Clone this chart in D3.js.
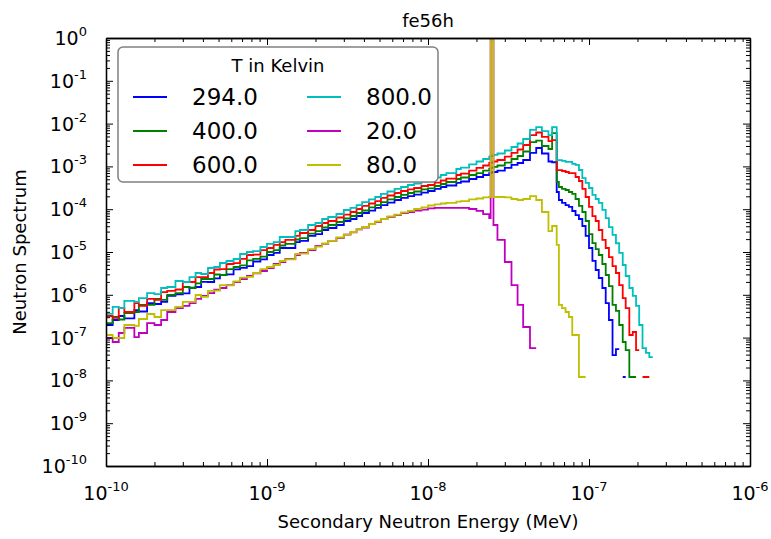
<!DOCTYPE html>
<html lang="en">
<head>
<meta charset="UTF-8">
<title>fe56h neutron spectrum</title>
<script src="https://d3js.org/d3.v7.min.js"></script>
<style>
  body { margin: 0; background: #fff; }
  svg { font-family: "DejaVu Sans", sans-serif; }
  .axis line { stroke: #000; }
  .axis path { stroke: #000; stroke-width: 1.3; }
</style>
</head>
<body>
<svg width="771" height="539"></svg>
<script>
// bin edges (MeV), shared by every temperature
const edges = [
  1.0e-10, 1.1e-10, 1.2e-10, 1.3e-10, 1.5e-10, 1.6e-10, 1.8e-10, 2.0e-10, 2.2e-10, 2.4e-10, 2.7e-10, 3.0e-10,
  3.3e-10, 3.6e-10, 3.9e-10, 4.3e-10, 4.7e-10, 5.1e-10, 5.6e-10, 6.2e-10, 6.8e-10, 7.5e-10, 8.2e-10, 9.1e-10,
  1.0e-9, 1.1e-9, 1.2e-9, 1.3e-9, 1.5e-9, 1.6e-9, 1.8e-9, 2.0e-9, 2.2e-9, 2.4e-9, 2.7e-9, 3.0e-9,
  3.3e-9, 3.6e-9, 3.9e-9, 4.3e-9, 4.7e-9, 5.1e-9, 5.6e-9, 6.2e-9, 6.8e-9, 7.5e-9, 8.2e-9, 9.1e-9,
  1.0e-8, 1.1e-8, 1.2e-8, 1.3e-8, 1.5e-8, 1.6e-8, 1.8e-8, 2.0e-8, 2.2e-8, 2.4e-8, 2.45e-8, 2.55e-8,
  2.7e-8, 3.0e-8, 3.3e-8, 3.6e-8, 3.9e-8, 4.3e-8, 4.7e-8, 5.1e-8, 5.6e-8, 5.9e-8, 6.3e-8, 6.5e-8,
  6.8e-8, 7.15e-8, 7.5e-8, 7.87e-8, 8.25e-8, 8.66e-8, 9.09e-8, 9.53e-8,
  1.0e-7, 1.05e-7, 1.10e-7, 1.15e-7, 1.21e-7, 1.27e-7, 1.33e-7, 1.40e-7, 1.47e-7, 1.54e-7, 1.62e-7, 1.69e-7,
  1.78e-7, 1.87e-7, 1.96e-7, 2.05e-7, 2.15e-7, 2.26e-7, 2.37e-7, 2.49e-7, 2.61e-7
];

// spectrum per bin, null = empty bin
const t294 = [
  1.97e-7, 2.58e-7, 3.2e-7, 2.8e-7, 4.4e-7, 4.07e-7, 6.4e-7, 6.1e-7, 6.8e-7, 9.4e-7, 1.02e-6, 1.08e-6,
  1.47e-6, 1.52e-6, 2.01e-6, 1.99e-6, 2.42e-6, 2.9e-6, 3.0e-6, 3.92e-6, 4.27e-6, 4.7e-6, 6.0e-6, 6.7e-6,
  8.5e-6, 9.5e-6, 1.24e-5, 1.24e-5, 1.71e-5, 1.81e-5, 2.37e-5, 2.63e-5, 3.27e-5, 3.64e-5, 4.27e-5, 5.3e-5,
  5.9e-5, 6.93e-5, 8.15e-5, 9.3e-5, 1.07e-4, 1.25e-4, 1.43e-4, 1.64e-4, 1.83e-4, 2.03e-4, 2.2e-4, 2.45e-4,
  2.66e-4, 2.97e-4, 3.3e-4, 3.58e-4, 4.1e-4, 4.44e-4, 5.08e-4, 5.65e-4, 6.3e-4, 7.0e-4, 7.2e-4, 7.4e-4,
  8.0e-4, 9.2e-4, 1.08e-3, 1.2e-3, 1.41e-3, 2.06e-3, 2.69e-3, 2.0e-3, 1.3e-3, 1.25e-3, 2.52e-4, 1.64e-4,
  1.4e-4, 1.25e-4, 1.13e-4, 9.07e-5, 7.3e-5, 5.9e-5, 4.05e-5, 2.37e-5,
  1.24e-5, 6.2e-6, 3.8e-6, 2.47e-6, 1.44e-6, 6.4e-7, 2.58e-7, 3.9e-8, 5.4e-8, null, 1.2e-8, null,
  null, null, null, null, null, null, null, null
];
const t400 = [
  2.19e-7, 3.03e-7, 2.65e-7, 3.76e-7, 3.96e-7, 5.8e-7, 5.8e-7, 8.0e-7, 7.6e-7, 1.0e-6, 1.1e-6, 1.52e-6,
  1.44e-6, 1.84e-6, 2.34e-6, 2.34e-6, 2.98e-6, 2.9e-6, 4.0e-6, 4.46e-6, 4.86e-6, 6.36e-6, 6.93e-6, 7.8e-6,
  1.0e-5, 1.11e-5, 1.42e-5, 1.54e-5, 1.96e-5, 2.12e-5, 2.7e-5, 3.09e-5, 3.74e-5, 4.27e-5, 5.02e-5, 6.06e-5,
  6.93e-5, 8.15e-5, 9.33e-5, 1.1e-4, 1.25e-4, 1.47e-4, 1.69e-4, 1.93e-4, 2.15e-4, 2.39e-4, 2.59e-4, 2.89e-4,
  3.05e-4, 3.48e-4, 3.88e-4, 4.32e-4, 5.08e-4, 5.5e-4, 6.3e-4, 7.0e-4, 8.0e-4, 8.9e-4, 9.2e-4, 9.7e-4,
  1.05e-3, 1.23e-3, 1.49e-3, 1.75e-3, 2.23e-3, 3.7e-3, 4.0e-3, 3.0e-3, 2.55e-3, 6.0e-3, 4.32e-4, 3.3e-4,
  2.97e-4, 2.81e-4, 2.52e-4, 2.27e-4, 1.73e-4, 1.19e-4, 8.6e-5, 5.3e-5,
  2.63e-5, 1.62e-5, 1.17e-5, 8.5e-6, 5.25e-6, 2.9e-6, 1.6e-6, 5.8e-7, 4.2e-7, 1.97e-7, 7.9e-8, 5.1e-8,
  1.2e-8, 1.2e-8, null, null, null, null, null, null
];
const t600 = [
  3.2e-7, 2.9e-7, 4.9e-7, 3.96e-7, 6.4e-7, 5.5e-7, 8.0e-7, 7.6e-7, 1.16e-6, 1.23e-6, 1.33e-6, 1.99e-6,
  1.99e-6, 2.6e-6, 2.6e-6, 3.23e-6, 3.9e-6, 4.0e-6, 5.25e-6, 5.5e-6, 6.9e-6, 8.5e-6, 8.7e-6, 1.11e-5,
  1.24e-5, 1.46e-5, 1.71e-5, 1.91e-5, 2.37e-5, 2.78e-5, 3.27e-5, 4.05e-5, 4.76e-5, 5.3e-5, 6.4e-5, 7.5e-5,
  8.6e-5, 1.01e-4, 1.19e-4, 1.36e-4, 1.55e-4, 1.83e-4, 2.09e-4, 2.39e-4, 2.66e-4, 2.89e-4, 3.13e-4, 3.48e-4,
  3.68e-4, 4.2e-4, 4.68e-4, 5.2e-4, 6.3e-4, 6.8e-4, 8.0e-4, 9.2e-4, 1.05e-3, 1.2e-3, 1.23e-3, 1.3e-3,
  1.41e-3, 1.7e-3, 2.06e-3, 2.48e-3, 3.16e-3, 5.4e-3, 6.2e-3, 4.9e-3, 3.9e-3, 4.1e-3, 8.2e-4, 8.2e-4,
  7.8e-4, 7.4e-4, 7.0e-4, 7.0e-4, 5.65e-4, 4.56e-4, 2.97e-4, 1.93e-4,
  1.13e-4, 6.9e-5, 5.3e-5, 3.27e-5, 1.91e-5, 1.24e-5, 7.6e-6, 4.7e-6, 3.23e-6, 1.69e-6, 8.4e-7, 4.9e-7,
  1.15e-7, 1.35e-7, 5.1e-8, null, 1.2e-8, 1.2e-8, null, null
];
const t800 = [
  3.6e-7, 5.2e-7, 4.9e-7, 7.2e-7, 6.8e-7, 8.4e-7, 1.1e-6, 1.04e-6, 1.44e-6, 1.52e-6, 2.1e-6, 1.99e-6,
  2.6e-6, 3.23e-6, 3.06e-6, 4.23e-6, 4.46e-6, 5.53e-6, 6.16e-6, 6.86e-6, 8.99e-6, 1.0e-5, 1.05e-5, 1.31e-5,
  1.54e-5, 1.71e-5, 2.24e-5, 2.24e-5, 3.09e-5, 3.27e-5, 4.27e-5, 4.76e-5, 5.9e-5, 6.57e-5, 7.72e-5, 9.57e-5,
  1.07e-4, 1.25e-4, 1.47e-4, 1.69e-4, 1.93e-4, 2.27e-4, 2.59e-4, 2.97e-4, 3.3e-4, 3.68e-4, 3.99e-4, 4.44e-4,
  4.8e-4, 5.5e-4, 6.3e-4, 7.0e-4, 8.7e-4, 9.4e-4, 1.11e-3, 1.3e-3, 1.49e-3, 1.7e-3, 1.75e-3, 1.85e-3,
  2.0e-3, 2.35e-3, 2.84e-3, 3.43e-3, 4.37e-3, 7.1e-3, 8.3e-3, 6.7e-3, 5.4e-3, 8.3e-3, 1.4e-3, 1.4e-3,
  1.34e-3, 1.27e-3, 1.27e-3, 1.14e-3, 1.08e-3, 8.24e-4, 5.35e-4, 4.1e-4,
  3.13e-4, 2.15e-4, 1.73e-4, 1.4e-4, 9.6e-5, 6.2e-5, 3.8e-5, 2.5e-5, 1.6e-5, 9.5e-6, 4.97e-6, 2.75e-6,
  1.44e-6, 9.4e-7, 5.5e-7, 1.97e-7, 5.7e-8, 4.4e-8, 3.5e-8, null
];
const t20 = [
  9.8e-8, 7.9e-8, 1.28e-7, 1.68e-7, 1.03e-7, 1.28e-7, 2.19e-7, 1.97e-7, 2.58e-7, 3.96e-7, 4.9e-7, 5.5e-7,
  6.4e-7, 8.0e-7, 9.4e-7, 1.1e-6, 1.32e-6, 1.44e-6, 1.69e-6, 1.99e-6, 2.34e-6, 2.75e-6, 3.15e-6, 3.6e-6,
  4.23e-6, 5.25e-6, 5.84e-6, 6.86e-6, 8.5e-6, 9.5e-6, 1.11e-5, 1.38e-5, 1.54e-5, 1.81e-5, 2.12e-5, 2.56e-5,
  2.86e-5, 3.36e-5, 3.74e-5, 4.51e-5, 5.02e-5, 5.9e-5, 6.57e-5, 7.31e-5, 8.15e-5, 8.6e-5, 9.3e-5, 9.8e-5,
  1.04e-4, 1.07e-4, 1.07e-4, 1.07e-4, 1.07e-4, 1.07e-4, 1.01e-4, 9.1e-5, 7.7e-5, 6.2e-5, 0.9, 4.27e-5,
  1.91e-5, 5.84e-6, 1.69e-6, 5.8e-7, 1.77e-7, 5.7e-8, null, null, null, null, null, null,
  null, null, null, null, null, null, null, null,
  null, null, null, null, null, null, null, null, null, null, null, null,
  null, null, null, null, null, null, null, null
];
const t80 = [
  1.15e-7, 9.8e-8, 9.8e-8, 1.97e-7, 1.87e-7, 2.72e-7, 3.56e-7, 3.03e-7, 4.4e-7, 4.4e-7, 5.2e-7, 6.8e-7,
  6.8e-7, 9.9e-7, 8.9e-7, 1.23e-6, 1.25e-6, 1.69e-6, 1.66e-6, 2.06e-6, 2.51e-6, 2.63e-6, 3.2e-6, 4.0e-6,
  4.46e-6, 4.97e-6, 6.16e-6, 6.7e-6, 8.99e-6, 9.2e-6, 1.17e-5, 1.34e-5, 1.58e-5, 1.81e-5, 2.18e-5, 2.56e-5,
  2.93e-5, 3.36e-5, 3.84e-5, 4.51e-5, 5.16e-5, 5.9e-5, 6.75e-5, 7.5e-5, 8.4e-5, 9.1e-5, 1.01e-4, 1.1e-4,
  1.22e-4, 1.29e-4, 1.36e-4, 1.4e-4, 1.51e-4, 1.55e-4, 1.69e-4, 1.78e-4, 1.88e-4, 1.93e-4, 0.9, 1.93e-4,
  1.93e-4, 1.88e-4, 1.73e-4, 1.64e-4, 1.73e-4, 2.03e-4, 1.64e-4, 8.6e-5, 3.09e-5, 4.05e-5, 1.46e-5, 5.8e-7,
  4.9e-7, 3.96e-7, 3.03e-7, 1.15e-7, 1.15e-7, 1.2e-8, 1.2e-8, null,
  null, null, null, null, null, null, null, null, null, null, null, null,
  null, null, null, null, null, null, null, null
];

const labels = ["294.0", "400.0", "600.0", "800.0", "20.0", "80.0"];
const colors = ["#0000ff", "#008000", "#ff0000", "#00bfbf", "#bf00bf", "#bfbf00"];
const series = [t294, t400, t600, t800, t20, t80];

const xDecades = [1e-10, 1e-9, 1e-8, 1e-7, 1e-6];
const xExp = ["-10", "-9", "-8", "-7", "-6"];
const yDecades = [1e0, 1e-1, 1e-2, 1e-3, 1e-4, 1e-5, 1e-6, 1e-7, 1e-8, 1e-9, 1e-10];
const yExp = ["0", "-1", "-2", "-3", "-4", "-5", "-6", "-7", "-8", "-9", "-10"];

const margin = { top: 38, right: 21, bottom: 73, left: 106 };
const width = 771 - margin.left - margin.right;
const height = 539 - margin.top - margin.bottom;

const svg = d3.select("svg");
const g = svg.append("g").attr("transform", `translate(${margin.left},${margin.top})`);

const x = d3.scaleLog().domain([1e-10, 1e-6]).range([0, width]);
const y = d3.scaleLog().domain([1e-10, 1e0]).range([height, 0]);

// minor ticks 2..9 in each decade
function minors(decades) {
  const out = [];
  decades.slice(0, -1).forEach(d => {
    const base = Math.min(d, d * 10);
    for (let k = 2; k <= 9; k++) out.push(base * k);
  });
  return out;
}
const xMinor = minors(xDecades);
const yMinor = minors(yDecades.slice().reverse());

svg.append("defs").append("clipPath").attr("id", "plot-clip")
  .append("rect").attr("width", width).attr("height", height);

// histogram steps
const line = d3.line()
  .defined(d => d.v != null)
  .x(d => x(d.e))
  .y(d => y(d.v));

function stepPoints(vals) {
  const pts = [];
  vals.forEach((v, i) => {
    pts.push({ e: edges[i], v: v });
    pts.push({ e: edges[i + 1], v: v });
  });
  return pts;
}

g.append("g").attr("clip-path", "url(#plot-clip)")
  .selectAll("path")
  .data(series)
  .join("path")
  .attr("d", d => line(stepPoints(d)))
  .attr("fill", "none")
  .attr("stroke", (d, i) => colors[i])
  .attr("stroke-width", 1.8);

// axes with inward ticks on all four sides
function addAxis(gen, transform) {
  g.append("g").attr("class", "axis").attr("transform", transform).call(gen)
    .selectAll("text").remove();
}
addAxis(d3.axisBottom(x).tickValues(xDecades).tickSizeInner(-7).tickSizeOuter(0), `translate(0,${height})`);
addAxis(d3.axisBottom(x).tickValues(xMinor).tickSizeInner(-4).tickSizeOuter(0), `translate(0,${height})`);
addAxis(d3.axisTop(x).tickValues(xDecades).tickSizeInner(-7).tickSizeOuter(0), "translate(0,0)");
addAxis(d3.axisTop(x).tickValues(xMinor).tickSizeInner(-4).tickSizeOuter(0), "translate(0,0)");
addAxis(d3.axisLeft(y).tickValues(yDecades).tickSizeInner(-7).tickSizeOuter(0), "translate(0,0)");
addAxis(d3.axisLeft(y).tickValues(yMinor).tickSizeInner(-4).tickSizeOuter(0), "translate(0,0)");
addAxis(d3.axisRight(y).tickValues(yDecades).tickSizeInner(-7).tickSizeOuter(0), `translate(${width},0)`);
addAxis(d3.axisRight(y).tickValues(yMinor).tickSizeInner(-4).tickSizeOuter(0), `translate(${width},0)`);

// tick labels as 10^n
g.selectAll(".xlab")
  .data(xDecades)
  .join("text")
  .attr("class", "xlab")
  .attr("x", d => x(d))
  .attr("y", height + 34)
  .attr("text-anchor", "middle")
  .attr("font-size", 19)
  .each(function (d, i) {
    const t = d3.select(this);
    t.append("tspan").text("10");
    t.append("tspan").attr("dy", -9).attr("font-size", 13).text(xExp[i]);
  });

g.selectAll(".ylab")
  .data(yDecades)
  .join("text")
  .attr("class", "ylab")
  .attr("x", -19)
  .attr("y", d => y(d) + 7)
  .attr("text-anchor", "end")
  .attr("font-size", 19)
  .each(function (d, i) {
    const t = d3.select(this);
    t.append("tspan").text("10");
    t.append("tspan").attr("dy", -9).attr("font-size", 13).text(yExp[i]);
  });

// titles
svg.append("text")
  .attr("x", margin.left + width / 2)
  .attr("y", 27)
  .attr("text-anchor", "middle")
  .attr("font-size", 18)
  .text("fe56h");

svg.append("text")
  .attr("x", margin.left + width / 2)
  .attr("y", 528)
  .attr("text-anchor", "middle")
  .attr("font-size", 18)
  .text("Secondary Neutron Energy (MeV)");

svg.append("text")
  .attr("transform", `translate(26,${margin.top + height / 2}) rotate(-90)`)
  .attr("text-anchor", "middle")
  .attr("font-size", 18)
  .text("Neutron Spectrum");

// legend, two columns
const legend = svg.append("g").attr("transform", "translate(118,47)");
legend.append("rect")
  .attr("width", 320).attr("height", 135)
  .attr("rx", 5)
  .attr("fill", "#fff")
  .attr("stroke", "#808080")
  .attr("stroke-width", 1.5);
legend.append("text")
  .attr("x", 160).attr("y", 25)
  .attr("text-anchor", "middle")
  .attr("font-size", 18)
  .text("T in Kelvin");

const items = legend.selectAll(".item")
  .data(labels)
  .join("g")
  .attr("class", "item")
  .attr("transform", (d, i) => `translate(${i < 3 ? 15 : 189},${50 + (i % 3) * 34})`);
items.append("line")
  .attr("x1", 0).attr("x2", 34)
  .attr("stroke", (d, i) => colors[i])
  .attr("stroke-width", 1.8);
items.append("text")
  .attr("x", 59).attr("y", 8)
  .attr("font-size", 23)
  .text(d => d);
</script>
</body>
</html>
